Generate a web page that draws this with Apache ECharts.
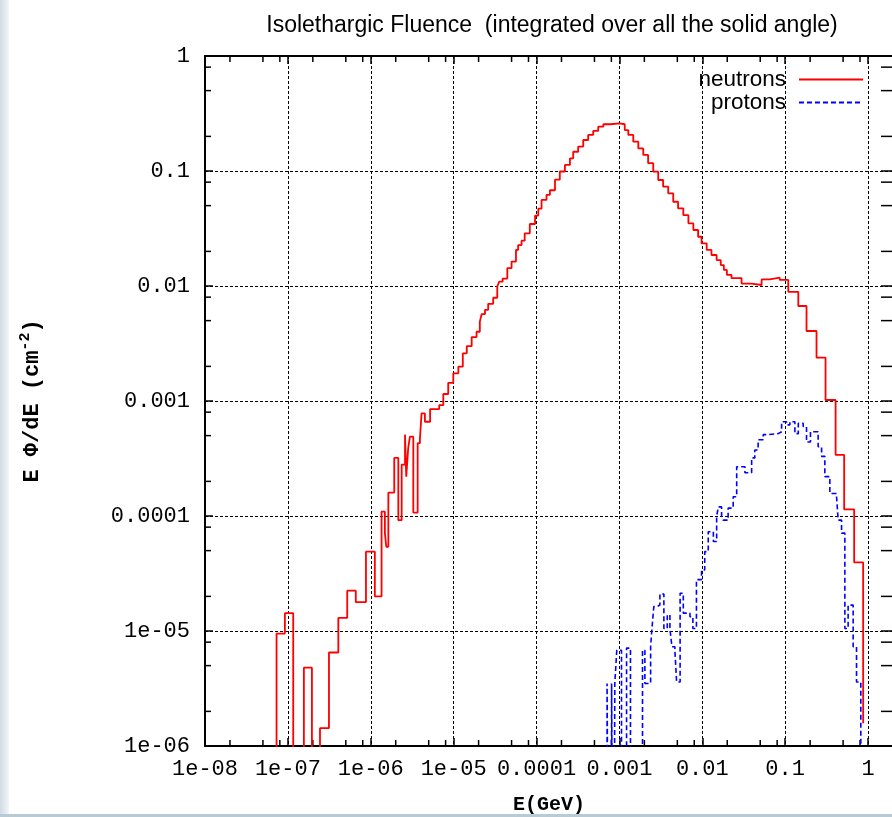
<!DOCTYPE html>
<html>
<head>
<meta charset="utf-8">
<title>Isolethargic Fluence</title>
<script src="https://cdn.jsdelivr.net/npm/echarts@6/dist/echarts.min.js"></script>
<style>
  html, body { margin: 0; padding: 0; background: #fff; }
  #chart { width: 892px; height: 817px; }
</style>
</head>
<body>
<div id="chart"></div>
<script>
// bin lower edges (GeV) and E dPhi/dE (cm^-2)
// 1e-9 = empty bin, sits below the axis floor
const neutronE = [6.0e-8, 7.3e-8, 9.2e-8, 1.16e-7, 1.56e-7, 1.95e-7, 2.44e-7, 3.13e-7, 4.06e-7, 5.2e-7,
  6.6e-7, 8.75e-7, 1.12e-6, 1.35e-6, 1.48e-6, 1.54e-6, 1.63e-6, 1.92e-6, 2.15e-6, 2.36e-6,
  2.59e-6, 2.68e-6, 2.83e-6, 2.97e-6, 3.26e-6, 3.68e-6, 3.92e-6, 4.1e-6, 4.5e-6, 5.2e-6,
  6.7e-6, 7.5e-6, 8.6e-6, 9.9e-6, 1.14e-5, 1.29e-5, 1.44e-5, 1.65e-5, 1.89e-5, 2.07e-5,
  2.18e-5, 2.39e-5, 2.61e-5, 3.0e-5, 3.36e-5, 3.55e-5, 3.9e-5, 4.44e-5, 5.0e-5, 5.65e-5,
  6.0e-5, 6.6e-5, 7.2e-5, 8.3e-5, 9.6e-5, 1.05e-4, 1.15e-4, 1.32e-4, 1.45e-4, 1.67e-4,
  1.91e-4, 2.2e-4, 2.53e-4, 2.77e-4, 3.18e-4, 3.66e-4, 4.2e-4, 4.83e-4, 5.55e-4, 6.4e-4,
  7.7e-4, 1.01e-3, 1.16e-3, 1.28e-3, 1.47e-3, 1.69e-3, 1.94e-3, 2.22e-3, 2.56e-3, 2.94e-3,
  3.37e-3, 3.88e-3, 4.46e-3, 5.1e-3, 5.9e-3, 6.8e-3, 7.8e-3, 8.9e-3, 9.8e-3, 1.13e-2,
  1.29e-2, 1.49e-2, 1.67e-2, 1.82e-2, 1.98e-2, 2.25e-2, 2.98e-2, 3.94e-2, 5.2e-2, 6.5e-2,
  8.6e-2, 0.109, 0.144, 0.181, 0.239, 0.307, 0.406, 0.515, 0.68, 0.873];
const neutronFlux = [1e-9, 9.5e-6, 1.43e-5, 1e-9, 4.8e-6, 1e-9, 1.43e-6, 6.5e-6, 1.3e-5, 2.24e-5,
  1.78e-5, 4.9e-5, 2.0e-5, 1.09e-4, 7.1e-5, 5.4e-5, 1.6e-4, 3.2e-4, 9.2e-5, 2.8e-4,
  5.1e-4, 2.2e-4, 3.9e-4, 4.9e-4, 1.07e-4, 4.3e-4, 4.7e-4, 7.8e-4, 6.6e-4, 8.5e-4,
  9.2e-4, 1.15e-3, 1.44e-3, 1.74e-3, 1.99e-3, 2.6e-3, 3.0e-3, 3.6e-3, 4.0e-3, 4.9e-3,
  5.7e-3, 6.2e-3, 7.0e-3, 7.9e-3, 9.9e-3, 1.09e-2, 1.16e-2, 1.43e-2, 1.63e-2, 2.06e-2,
  2.27e-2, 2.48e-2, 2.87e-2, 3.46e-2, 4.1e-2, 4.7e-2, 5.6e-2, 6.2e-2, 6.8e-2, 8.4e-2,
  9.9e-2, 0.113, 0.129, 0.147, 0.163, 0.186, 0.206, 0.223, 0.243, 0.255,
  0.26, 0.255, 0.227, 0.206, 0.18, 0.157, 0.138, 0.117, 0.0986, 0.0835,
  0.073, 0.064, 0.054, 0.0474, 0.0414, 0.0351, 0.0307, 0.0268, 0.0235, 0.0206,
  0.0186, 0.0168, 0.0152, 0.0138, 0.0125, 0.0117, 0.0105, 0.0102, 0.0114, 0.0118,
  0.0113, 8.9e-3, 6.7e-3, 4.06e-3, 2.38e-3, 1.02e-3, 3.4e-4, 1.14e-4, 3.95e-5, 1.58e-6];

const protonE = [6.5e-4, 7.1e-4, 7.5e-4, 8.05e-4, 8.5e-4, 8.8e-4, 9.3e-4, 1.06e-3, 1.22e-3, 1.36e-3,
  1.9e-3, 2.03e-3, 2.38e-3, 2.47e-3, 2.6e-3, 2.83e-3, 3.08e-3, 3.44e-3, 3.78e-3, 4.07e-3,
  4.3e-3, 4.67e-3, 4.9e-3, 5.4e-3, 5.9e-3, 7.1e-3, 7.7e-3, 8.5e-3, 9.8e-3, 1.07e-2,
  1.18e-2, 1.36e-2, 1.49e-2, 1.56e-2, 1.71e-2, 1.79e-2, 2.05e-2, 2.36e-2, 2.6e-2, 3.27e-2,
  3.94e-2, 4.3e-2, 4.72e-2, 5.43e-2, 6.24e-2, 8.24e-2, 9.06e-2, 0.104, 0.114, 0.131,
  0.144, 0.165, 0.181, 0.202, 0.25, 0.275, 0.301, 0.346, 0.417, 0.436,
  0.479, 0.525, 0.575, 0.661, 0.726, 0.818, 0.84];
const protonFlux = [1e-9, 3.5e-6, 1e-9, 3.5e-6, 1e-9, 3.5e-6, 6.8e-6, 1e-9, 7.1e-6, 1e-9,
  6.8e-6, 3.5e-6, 7.3e-6, 1.05e-5, 1.63e-5, 1.68e-5, 2.1e-5, 1.05e-5, 1.38e-5, 1.05e-5,
  7.3e-6, 6.8e-6, 3.6e-6, 2.13e-5, 1.43e-5, 1.33e-5, 1.05e-5, 2.8e-5, 3.4e-5, 4.9e-5,
  7.3e-5, 6.0e-5, 9.9e-5, 1.2e-4, 9.9e-5, 9.2e-5, 1.17e-4, 1.47e-4, 2.68e-4, 2.38e-4,
  3.2e-4, 3.75e-4, 4.6e-4, 5.1e-4, 5.2e-4, 5.4e-4, 6.6e-4, 6.2e-4, 6.6e-4, 5.2e-4,
  6.4e-4, 6.0e-4, 4.4e-4, 5.4e-4, 4.0e-4, 3.3e-4, 2.2e-4, 1.57e-4, 1.47e-4, 9.2e-5,
  7.1e-5, 1.05e-5, 1.68e-5, 7.3e-6, 3.6e-6, 1.06e-6, 1e-9];

const xTickLabels = ['1e-08', '1e-07', '1e-06', '1e-05', '0.0001', '0.001', '0.01', '0.1', '1'];
const yTickLabels = ['1e-06', '1e-05', '0.0001', '0.001', '0.01', '0.1', '1'];
const xFirstDecade = -8;
const yFirstDecade = -6;
// gnuplot-style minor ticks at 2, 5, 8 of each decade
const minorMantissas = [2, 5, 8];

const monoFont = "'Liberation Mono', 'DejaVu Sans Mono', monospace";
const sansFont = "'Liberation Sans', Arial, sans-serif";

const chart = echarts.init(document.getElementById('chart'));

const decadeLabel = (labels, first) => v => {
  const e = Math.log10(v);
  const k = Math.round(e);
  if (Math.abs(e - k) > 1e-6) return '';
  return labels[k - first] || '';
};

const minorTicks = [];
for (let d = xFirstDecade; d < 0; d++) {
  minorMantissas.forEach(m => minorTicks.push([m * Math.pow(10, d), 1e-3, 0]));
}
for (let d = yFirstDecade; d < 0; d++) {
  minorMantissas.forEach(m => minorTicks.push([1e-3, m * Math.pow(10, d), 1]));
}

const frame = { show: true, lineStyle: { color: '#000', width: 2 } };
const majorTick = { show: true, inside: true, length: 8, lineStyle: { color: '#000', width: 1.5 } };
const gridLine = { show: true, lineStyle: { color: '#000', width: 1, type: [3, 2] } };

const legendBase = {
  right: 23, itemWidth: 64, itemHeight: 14, align: 'right', selectedMode: false,
  itemStyle: { opacity: 0 },
  textStyle: { fontFamily: sansFont, fontSize: 22.5, color: '#000', padding: [0, 8, 0, 0] }
};

const option = {
  animation: false,
  backgroundColor: '#fff',
  title: {
    text: 'Isolethargic Fluence  (integrated over all the solid angle)',
    left: 547, top: 9, textAlign: 'center',
    textStyle: { fontFamily: sansFont, fontSize: 23, fontWeight: 'normal', color: '#000' }
  },
  legend: [
    { ...legendBase, data: ['neutrons'], top: 63 },
    { ...legendBase, data: ['protons'], top: 86 }
  ],
  grid: { left: 205, top: 56, width: 688, height: 690, containLabel: false, outerBoundsMode: 'none' },
  xAxis: [
    {
      type: 'log', logBase: 10, min: 1e-8, max: 2, position: 'bottom',
      axisLine: frame, axisTick: majorTick, splitLine: gridLine,
      axisLabel: {
        formatter: decadeLabel(xTickLabels, xFirstDecade), margin: 12,
        fontFamily: monoFont, fontSize: 22, color: '#000', showMaxLabel: false
      },
      name: 'E(GeV)', nameLocation: 'middle', nameGap: 49,
      nameTextStyle: { fontFamily: monoFont, fontSize: 20, fontWeight: 'bold', color: '#000' }
    },
    {
      type: 'log', logBase: 10, min: 1e-8, max: 2, position: 'top',
      axisLine: frame, axisTick: majorTick, splitLine: { show: false }, axisLabel: { show: false }
    }
  ],
  yAxis: [
    {
      type: 'log', logBase: 10, min: 1e-6, max: 1, position: 'left',
      axisLine: frame, axisTick: majorTick, splitLine: gridLine,
      axisLabel: {
        formatter: decadeLabel(yTickLabels, yFirstDecade), margin: 15,
        fontFamily: monoFont, fontSize: 22, color: '#000'
      },
      name: 'E Φ/dE (cm{sup|-2})', nameLocation: 'middle', nameGap: 158, nameRotate: 90,
      nameTextStyle: {
        fontFamily: monoFont, fontSize: 22, fontWeight: 'bold', color: '#000',
        rich: { sup: { fontFamily: monoFont, fontSize: 15, fontWeight: 'bold', color: '#000', padding: [0, 0, 14, 0] } }
      }
    },
    {
      type: 'log', logBase: 10, min: 1e-6, max: 1, position: 'right',
      axisLine: frame, axisTick: { ...majorTick, length: 12 }, splitLine: { show: false }, axisLabel: { show: false }
    }
  ],
  series: [
    {
      name: 'neutrons', type: 'line', step: 'end', symbol: 'none', clip: true,
      xAxisIndex: 0, yAxisIndex: 0,
      lineStyle: { color: '#ff0000', width: 1.8 }, itemStyle: { color: '#ff0000' },
      data: neutronE.map((e, i) => [e, neutronFlux[i]])
    },
    {
      name: 'protons', type: 'line', step: 'end', symbol: 'none', clip: true,
      xAxisIndex: 0, yAxisIndex: 0,
      lineStyle: { color: '#0000ff', width: 1.6, type: [5, 3] }, itemStyle: { color: '#0000ff' },
      data: protonE.map((e, i) => [e, protonFlux[i]])
    },
    {
      type: 'custom', silent: true, xAxisIndex: 0, yAxisIndex: 0, clip: false,
      data: minorTicks,
      renderItem: (params, api) => {
        const cs = params.coordSys;
        const isY = api.value(2) === 1;
        const p = api.coord([api.value(0), api.value(1)]);
        const style = { stroke: '#000', lineWidth: 1.5 };
        if (!isY) {
          return { type: 'group', children: [
            { type: 'line', shape: { x1: p[0], y1: cs.y + cs.height, x2: p[0], y2: cs.y + cs.height - 6 }, style },
            { type: 'line', shape: { x1: p[0], y1: cs.y, x2: p[0], y2: cs.y + 6 }, style }
          ] };
        }
        return { type: 'group', children: [
          { type: 'line', shape: { x1: cs.x, y1: p[1], x2: cs.x + 6, y2: p[1] }, style },
          { type: 'line', shape: { x1: cs.x + cs.width, y1: p[1], x2: cs.x + cs.width - 12, y2: p[1] }, style }
        ] };
      }
    }
  ],
  graphic: [
    { type: 'rect', left: 0, top: 0, shape: { width: 9, height: 817 }, silent: true,
      style: { fill: new echarts.graphic.LinearGradient(0, 0, 1, 0, [
        { offset: 0, color: '#cfdbe3' }, { offset: 1, color: '#f3f6f8' }]) } },
    { type: 'rect', left: 0, top: 814, shape: { width: 892, height: 3 }, silent: true,
      style: { fill: '#b9cad4' } }
  ]
};

chart.setOption(option);
</script>
</body>
</html>
